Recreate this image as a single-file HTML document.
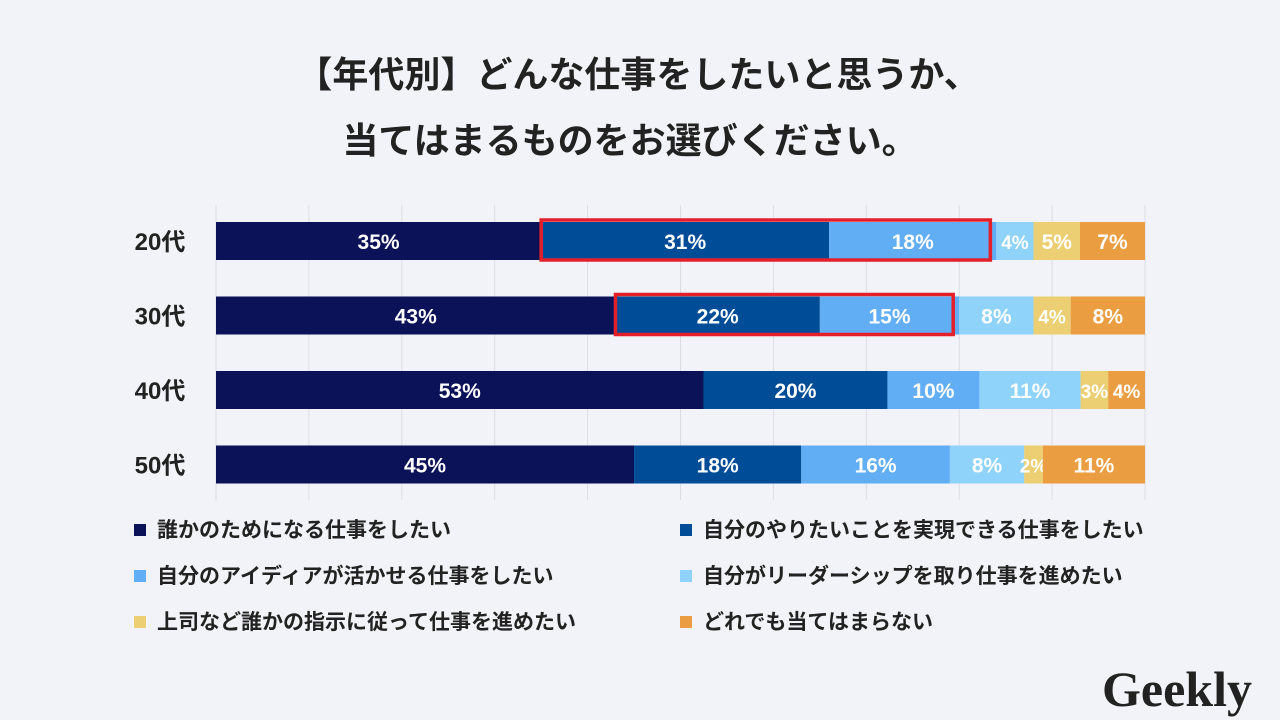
<!DOCTYPE html>
<html><head><meta charset="utf-8"><style>
body{margin:0;width:1280px;height:720px;background:#f2f3f8;overflow:hidden;font-family:"Liberation Sans","Noto Sans CJK JP",sans-serif;}
svg{position:absolute;left:0;top:0}
</style></head><body>
<svg id="c" width="1280" height="720">
<text x="638" y="87" text-anchor="middle" font-size="36" font-weight="bold" fill="#222">【年代別】どんな仕事をしたいと思うか、</text>
<text x="630" y="153" text-anchor="middle" font-size="36" font-weight="bold" fill="#222">当てはまるものをお選びください。</text>
<g id="grid"></g><g id="bars"></g><g id="legend"></g>
<text x="1177" y="706" text-anchor="middle" font-size="50" font-weight="bold" font-family="Liberation Serif,serif" fill="#222">Geekly</text>
</svg>
<script>
const categories=["20代","30代","40代","50代"];
const seriesNames=["誰かのためになる仕事をしたい","自分のやりたいことを実現できる仕事をしたい","自分のアイディアが活かせる仕事をしたい","自分がリーダーシップを取り仕事を進めたい","上司など誰かの指示に従って仕事を進めたい","どれでも当てはまらない"];
const s1=[35,43,53,45];
const s2=[31,22,20,18];
const s3=[18,15,10,16];
const s4=[4,8,11,8];
const s5=[5,4,3,2];
const s6=[7,8,4,11];
const highlightRows=[0,1];
const colors=["#0b1257","#004c96","#62aef5","#8fd3fa","#ebcf72","#eb9d42"];
const series=[s1,s2,s3,s4,s5,s6];
const NS="http://www.w3.org/2000/svg";
const x0=216,x1=1145,rowY0=241,rowStep=74.5,bh=38;
const xs=v=>x0+(x1-x0)*v/100;
const ys=i=>rowY0+i*rowStep;
function mk(t,a,p){const e=document.createElementNS(NS,t);for(const k in a)e.setAttribute(k,a[k]);p.appendChild(e);return e;}
const grid=document.getElementById('grid'),bars=document.getElementById('bars'),leg=document.getElementById('legend');
for(let g=0;g<=100;g+=10){const l=mk('line',{x1:xs(g),x2:xs(g),y1:205,y2:500,stroke:'#dcdde3','stroke-width':1},grid);

}
categories.forEach((c,i)=>{
 const cy=ys(i);
 const t=mk('text',{x:160,y:cy+9,'text-anchor':'middle','font-size':24,'font-weight':'bold',fill:'#222'},bars);t.textContent=c;
 
 
 const tot=series.reduce((a,s)=>a+s[i],0);
 let acc=0;const bounds=[];
 series.forEach((s,j)=>{
  const a=xs(acc/tot*100),b=xs((acc+s[i])/tot*100);bounds.push([a,b]);acc+=s[i];
  const r=mk('rect',{x:a,y:cy-bh/2,width:b-a,height:bh,fill:colors[j]},bars);
  
  
  const tx=mk('text',{x:(a+b)/2,y:cy+8,'text-anchor':'middle','font-size':s[i]<5?19:21,'font-weight':'bold',fill:'#fff'},bars);tx.textContent=s[i]+'%';
  
  
 });
 if(highlightRows.includes(i)){
  const h=mk('rect',{x:bounds[1][0],y:cy-bh/2-2,width:bounds[2][1]-bounds[1][0]-6,height:bh+2,fill:'none',stroke:'#e3202a','stroke-width':3.5},bars);
  
  
 }
});
seriesNames.forEach((n,j)=>{
 const lx=j%2?686:140,ly=530+Math.floor(j/2)*46;
 const r=mk('rect',{x:lx-6,y:ly-6,width:12,height:12,fill:colors[j]},leg);
 
 
 const t=mk('text',{x:lx+17,y:ly+7,'font-size':21,'font-weight':'bold',fill:'#222'},leg);t.textContent=n;
 
 
});
</script>
</body></html>
